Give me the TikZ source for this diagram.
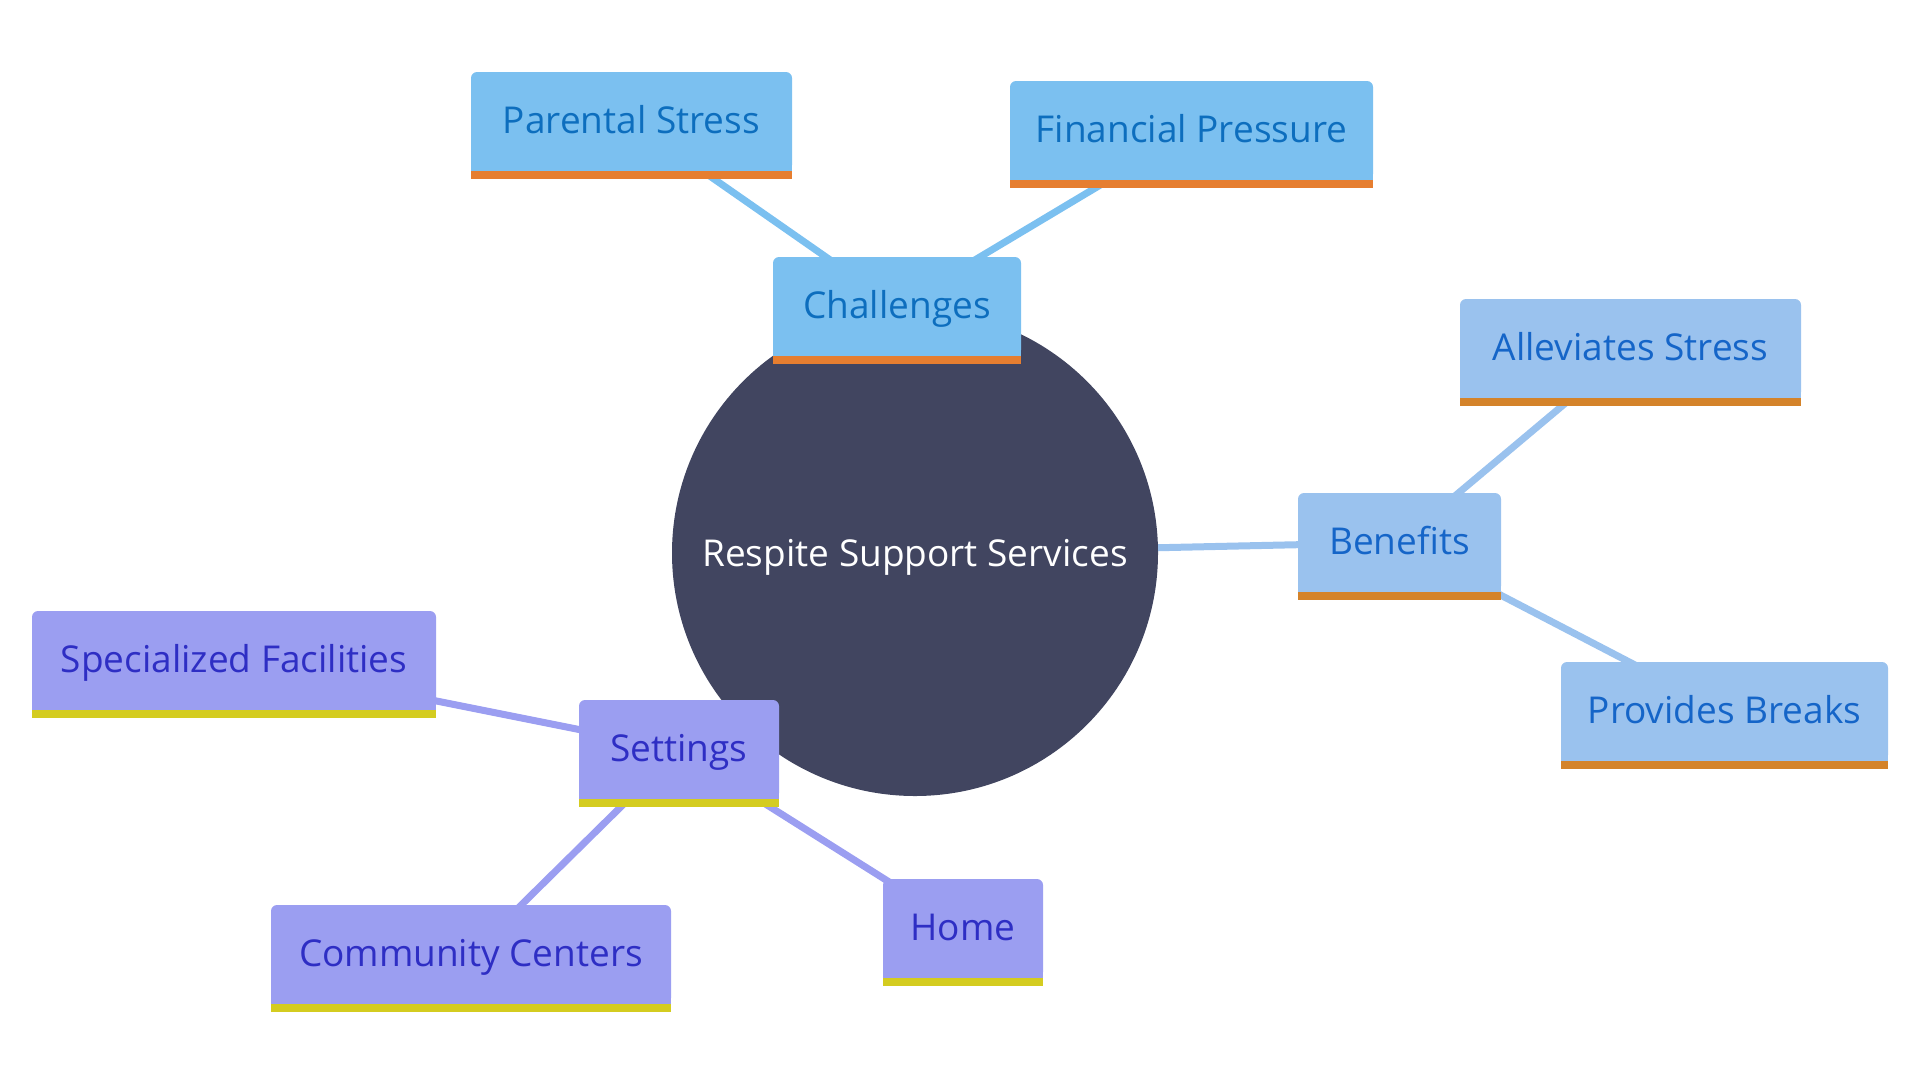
\documentclass[tikz,border=0pt]{standalone}
\usepackage{fontspec}
\setmainfont{Open Sans}
\definecolor{chfill}{HTML}{7BC0F0}
\definecolor{chtext}{HTML}{0D6EBE}
\definecolor{chband}{HTML}{E67E30}
\definecolor{befill}{HTML}{9AC2EE}
\definecolor{betext}{HTML}{1565C8}
\definecolor{beband}{HTML}{D4832A}
\definecolor{sefill}{HTML}{9B9EF1}
\definecolor{setext}{HTML}{2E2EC4}
\definecolor{seband}{HTML}{D4CC20}
\definecolor{circ}{HTML}{414560}
\pgfdeclarelayer{bg}
\pgfsetlayers{bg,main}
\newcommand\bandit[3]{%
  \fill[#2] ([yshift=7pt]#1.south west) rectangle (#1.south east);
  \fill[#3] (#1.south west) rectangle ([yshift=-8pt]#1.south east);
}
\begin{document}
\begin{tikzpicture}[x=1pt,y=-1pt,
  box/.style={rectangle, rounded corners=6pt, minimum height=99pt, inner sep=0pt,
    text height=32pt, text depth=9pt,
    font=\fontsize{37}{44}\selectfont},
  chbox/.style={box, fill=chfill, text=chtext},
  bebox/.style={box, fill=befill, text=betext},
  sebox/.style={box, fill=sefill, text=setext},
  link/.style={line width=7pt},
]
\useasboundingbox (0,0) rectangle (1920,1080);

\node[circle, fill=circ, minimum size=486pt, inner sep=0pt, text=white,
  text depth=0pt, font=\fontsize{37}{44}\selectfont] (root) at (915,553) {Respite Support Services};

\node[chbox, minimum width=248pt] (ch) at (897,306.5) {Challenges};
\node[chbox, minimum width=321pt] (ps) at (631.5,121.5) {Parental Stress};
\node[chbox, minimum width=363pt] (fp) at (1191.5,130.5) {Financial Pressure};

\node[bebox, minimum width=203pt] (be) at (1399.5,542.5) {Benefits};
\node[bebox, minimum width=341pt] (al) at (1630.5,348.5) {Alleviates Stress};
\node[bebox, minimum width=327pt] (pb) at (1724.5,711.5) {Provides Breaks};

\node[sebox, minimum width=200pt] (se) at (679,749.5) {Settings};
\node[sebox, minimum width=404pt] (sf) at (234,660.5) {Specialized Facilities};
\node[sebox, minimum width=400pt] (cc) at (471,954.5) {Community Centers};
\node[sebox, minimum width=160pt] (ho) at (963,928.5) {Home};

\foreach \n in {ch,ps,fp}{\bandit{\n}{chfill}{chband}}
\foreach \n in {be,al,pb}{\bandit{\n}{befill}{beband}}
\foreach \n in {se,sf,cc,ho}{\bandit{\n}{sefill}{seband}}

\begin{pgfonlayer}{bg}
  \draw[link, chfill] (ch.center) -- (ps.center);
  \draw[link, chfill] (ch.center) -- (fp.center);
  \draw[link, befill] (root.center) -- (be.center);
  \draw[link, befill] (be.center) -- (al.center);
  \draw[link, befill] (be.center) -- (pb.center);
  \draw[link, sefill] (se.center) -- (sf.center);
  \draw[link, sefill] (se.center) -- (cc.center);
  \draw[link, sefill] (se.center) -- (ho.center);
\end{pgfonlayer}
\end{tikzpicture}
\end{document}
